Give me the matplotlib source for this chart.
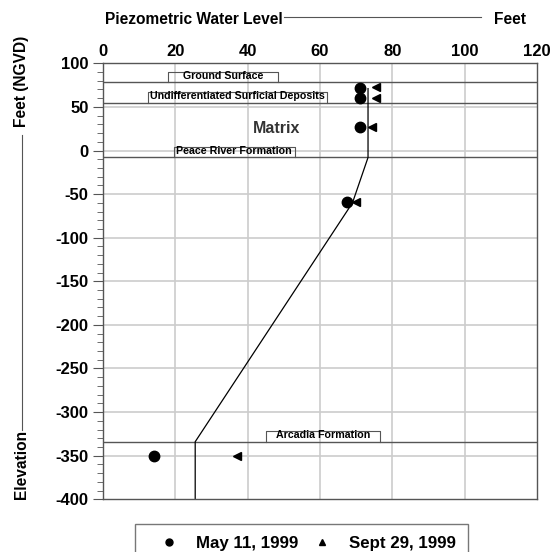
import matplotlib.pyplot as plt
from matplotlib.lines import Line2D

plt.rcParams['font.family'] = ['Liberation Sans', 'DejaVu Sans']
plt.rcParams['font.weight'] = 'bold'
plt.rcParams['axes.unicode_minus'] = False

# water level readings (feet) vs elevation (ft NGVD)
may_level = [71, 71, 71, 67.5, 14]
may_elev = [72, 60, 27, -59, -350]
sept_level = [75.5, 75.5, 74.5, 70, 37]
sept_elev = [73, 60, 27, -59, -350]

# interpreted profile
prof_level = [73.3, 73.3, 69, 25.5, 25.5]
prof_elev = [71, -8, -60, -334, -400]

# formation boundaries
bounds = [78, 55, -8, -334]
units = ['Ground Surface', 'Undifferentiated Surficial Deposits',
         'Peace River Formation', 'Arcadia Formation']
unit_x = [18, 12.5, 19.5, 45]
unit_w = [30.5, 49.5, 33.5, 31.5]
unit_top = [78, 55, -8, -334]

dark = '#555555'
grid = '#cccccc'

fig = plt.figure(figsize=(5.52, 5.52), dpi=100)
ax = fig.add_axes([0.1866, 0.0955, 0.786, 0.7898])
ax.set_xlim(0, 120)
ax.set_ylim(-400, 100)

for x in range(20, 120, 20):
    ax.axvline(x, color=grid, lw=1.2, zorder=0)
for y in range(-350, 100, 50):
    ax.axhline(y, color=grid, lw=1.2, zorder=0)
for b in bounds:
    ax.axhline(b, color=dark, lw=1.0, zorder=1)

ax.plot(prof_level, prof_elev, color='black', lw=0.9, zorder=2)
ax.plot(may_level, may_elev, 'o', color='black', ms=7.5, zorder=3)
ax.plot(sept_level, sept_elev, '<', color='black', ms=5.5, zorder=3)

for lab, x0, w, top in zip(units, unit_x, unit_w, unit_top):
    h = 12
    ax.plot([x0, x0, x0 + w, x0 + w], [top, top + h, top + h, top],
            color=dark, lw=0.8, zorder=2)
    ax.text(x0 + w / 2, top + 1.5, lab, ha='center', va='bottom',
            fontsize=7.7, fontweight='bold', zorder=4)

ax.text(48, 25.5, 'Matrix', ha='center', va='center', fontsize=11.5,
        fontweight='bold', color='#333333')

ax.xaxis.tick_top()
ax.set_xticks(range(0, 121, 20))
ax.set_yticks(range(-400, 101, 50))
ax.set_yticks(range(-400, 101, 10), minor=True)
ax.tick_params(axis='x', length=0, labelsize=12, pad=3)
ax.tick_params(axis='y', which='major', length=7, color=dark, labelsize=12)
ax.tick_params(axis='y', which='minor', length=4, color=dark)
for s in ax.spines.values():
    s.set_color(dark)
    s.set_linewidth(1.0)

# axis titles with connecting rules
fig.text(105 / 552, 1 - 19 / 552, 'Piezometric Water Level', ha='left',
         va='center', fontsize=11.2)
fig.add_artist(Line2D([284 / 552, 481 / 552], [1 - 17 / 552, 1 - 17 / 552],
                      color=dark, lw=0.8))
fig.text(510 / 552, 1 - 19 / 552, 'Feet', ha='center', va='center',
         fontsize=11.2)

fig.text(22 / 552, 1 - 81 / 552, 'Feet (NGVD)', rotation=90, ha='center',
         va='center', fontsize=11.2)
fig.add_artist(Line2D([22 / 552, 22 / 552], [1 - 135 / 552, 1 - 430 / 552],
                      color=dark, lw=0.8))
fig.text(22 / 552, 1 - 464 / 552, 'Elevation', rotation=90, ha='center',
         va='center', fontsize=11.2)

handles = [Line2D([], [], ls='', marker='o', color='black', ms=5),
           Line2D([], [], ls='', marker='^', color='black', ms=5)]
leg = fig.legend(handles, ['May 11, 1999', 'Sept 29, 1999'], ncol=2,
                 loc='upper left', bbox_to_anchor=(135 / 552, 1 - 524 / 552),
                 frameon=True, fancybox=False, fontsize=12.2, borderpad=0.7,
                 handlelength=2.6, handletextpad=0.3, columnspacing=0.1,
                 borderaxespad=0)
leg.get_frame().set_edgecolor(dark)
leg.get_frame().set_linewidth(1.0)

fig.savefig('out.png', dpi=100)
